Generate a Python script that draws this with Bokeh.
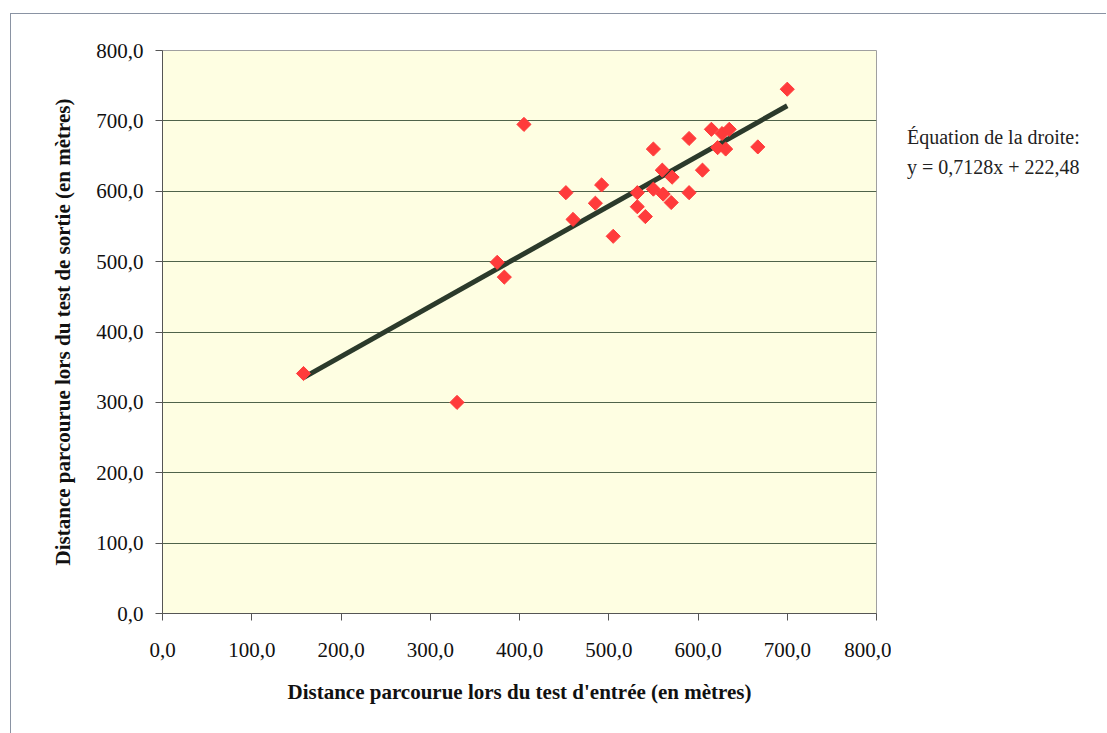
import math
from bokeh.plotting import figure
from bokeh.models import ColumnDataSource, CustomJSTickFormatter, FixedTicker, Range1d, Div
from bokeh.layouts import row
from bokeh.embed import file_html
from bokeh.resources import INLINE

# Data
entree = [158, 330, 375, 383, 405, 452, 460, 485, 492, 505, 532, 532, 541, 550, 550,
          560, 561, 570, 571, 590, 590, 605, 615, 622, 627, 631, 635, 667, 700]
sortie = [341, 300, 499, 478, 695, 598, 560, 583, 609, 536, 598, 578, 564, 660, 603,
          630, 596, 584, 620, 675, 598, 630, 688, 662, 682, 660, 688, 663, 745]
slope = 0.7128
intercept = 222.48
ticks = [0, 100, 200, 300, 400, 500, 600, 700, 800]
x_title = "Distance parcourue lors du test d'entrée (en mètres)"
y_title = "Distance parcourue lors du test de sortie (en mètres)"
eq_title = "Équation de la droite:"
eq_text = "y = " + f"{slope:.4f}".replace(".", ",") + "x + " + f"{intercept:.2f}".replace(".", ",")

FONT = "Liberation Serif"

PW, PH = 880, 716
p = figure(width=PW, height=PH, output_backend="svg", toolbar_location=None,
           x_range=Range1d(0, 800), y_range=Range1d(0, 800))
p.min_border_left = 151
p.min_border_top = 36
p.min_border_right = PW - 151 - 714
p.min_border_bottom = PH - 36 - 563

p.background_fill_color = "#fefee2"
p.border_fill_color = "white"
p.outline_line_color = "#a0a0a0"

fmt = CustomJSTickFormatter(code="return tick.toFixed(1).replace('.', ',');")
for ax in (p.xaxis[0], p.yaxis[0]):
    ax.ticker = FixedTicker(ticks=ticks)
    ax.formatter = fmt
    ax.major_label_text_font = FONT
    ax.major_label_text_font_size = "21px"
    ax.major_label_text_color = "#111111"
    ax.axis_label_text_font = FONT
    ax.axis_label_text_font_style = "bold"
    ax.axis_label_text_font_size = "21px"
    ax.axis_label_text_color = "#111111"
    ax.major_tick_in = 0
    ax.major_tick_out = 7
    ax.minor_tick_line_color = None
    ax.axis_line_color = "#555555"
    ax.major_tick_line_color = "#555555"

p.xaxis.axis_label = x_title
p.yaxis.axis_label = y_title
p.xaxis.major_label_standoff = 22
p.yaxis.major_label_standoff = 12
p.xaxis.axis_label_standoff = 20
p.yaxis.axis_label_standoff = 18

p.xgrid.grid_line_color = None
p.ygrid.grid_line_color = "#4f634a"
p.ygrid.grid_line_width = 1

src = ColumnDataSource(dict(x=entree, y=sortie))
x0, x1 = min(entree), max(entree)
p.line([x0, x1], [slope * x0 + intercept, slope * x1 + intercept],
       line_color="#2b3a2b", line_width=5)
p.scatter("x", "y", source=src, marker="square", size=10, angle=math.pi / 4,
          fill_color="#ff3b3b", line_color="#ff3b3b")

eq = Div(text=(
    f'<div style="font-family: \'{FONT}\'; font-size: 20px; color: #222222; '
    f'line-height: 30px; padding-top: 103px; padding-left: 11px; white-space: nowrap;">'
    f'{eq_title}<br>{eq_text}</div>'),
    width=205, height=PH)

layout = row(p, eq)
layout.margin = (13, 0, 0, 10)
layout.styles = {"border-top": "1px solid #8a93a3", "border-left": "1px solid #8a93a3"}

open("out.html", "w").write(file_html(layout, INLINE))
